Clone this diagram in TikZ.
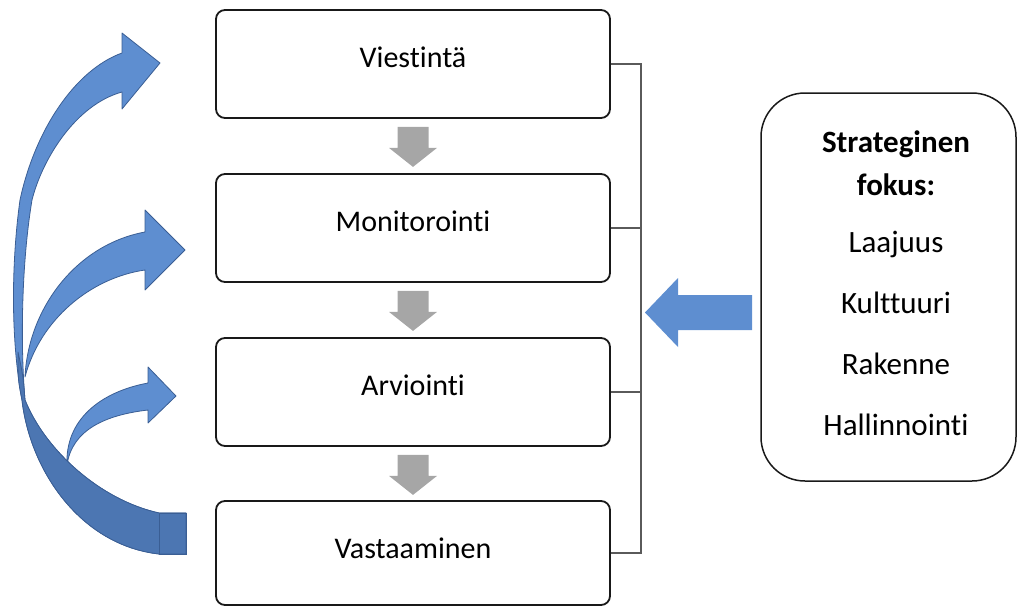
\documentclass[tikz,border=0pt]{standalone}
\usepackage{fontspec}
\setmainfont{Carlito}[Ligatures={NoCommon,NoRare,NoDiscretionary}]
\usetikzlibrary{calc}
\definecolor{arrowblue}{RGB}{94,142,208}
\definecolor{arrowdark}{RGB}{76,118,178}
\definecolor{arrowline}{RGB}{58,94,148}
\definecolor{stepgray}{RGB}{166,166,166}
\definecolor{brackgray}{RGB}{90,90,90}
\begin{document}
\begin{tikzpicture}[x=1pt,y=-1pt,
  procbox/.style={draw=black!90, line width=1.8pt, rounded corners=9pt, minimum width=394pt, minimum height=108pt, inner sep=0pt},
  boxtext/.style={anchor=base, font=\fontsize{30}{36}\selectfont, inner sep=0pt},
  focustext/.style={anchor=base, font=\fontsize{31}{37}\selectfont, inner sep=0pt},
  bracketline/.style={draw=brackgray, line width=1.1pt},
  curvearrow/.style={fill=arrowblue, draw=arrowline, line width=0.8pt, line join=round},
  darkband/.style={fill=arrowdark, draw=arrowline, line width=0.8pt, line join=round},
  gdown/.pic={\fill[stepgray] (-15.5,0) -- (15.5,0) -- (15.5,21) -- (24,21) -- (0,40) -- (-24,21) -- (-15.5,21) -- cycle;}
]
\useasboundingbox (0,0) rectangle (1018,608);

% process boxes
\node[procbox] (b1) at (413,64) {};
\node[procbox] (b2) at (413,228) {};
\node[procbox] (b3) at (413,392) {};
\node[procbox, minimum height=104pt] (b4) at (413,553) {};
\node[boxtext] (t1) at (413,67) {Viestintä};
\node[boxtext] (t2) at (413,231) {Monitorointi};
\node[boxtext] (t3) at (413,395) {Arviointi};
\node[boxtext] (t4) at (413,558) {Vastaaminen};

% gray step arrows
\pic at ($(b1.south)+(0,8)$) {gdown};
\pic at ($(b2.south)+(0,8)$) {gdown};
\pic at ($(b3.south)+(0,8)$) {gdown};

% bracket
\coordinate (bx) at (641,0);
\draw[bracketline] (b1.east) -- (b1.east -| bx) -- (b4.east -| bx) -- (b4.east);
\draw[bracketline] (b2.east) -- (b2.east -| bx);
\draw[bracketline] (b3.east) -- (b3.east -| bx);

% focus box
\node[draw=black!90, line width=1.5pt, rounded corners=44pt, minimum width=255pt, minimum height=388pt, inner sep=0pt] (focus) at (888.5,287) {};
\node[focustext, font=\fontsize{31}{37}\selectfont\bfseries] (f1) at (896,152) {Strateginen};
\node[focustext, font=\fontsize{31}{37}\selectfont\bfseries] (f2) at (896,195) {fokus:};
\node[focustext] (f3) at (896,252) {Laajuus};
\node[focustext] (f4) at (896,313) {Kulttuuri};
\node[focustext] (f5) at (896,374) {Rakenne};
\node[focustext] (f6) at (896,435) {Hallinnointi};

% block arrow from focus box to bracket
\fill[arrowblue] (752,295) -- (678,295) -- (678,278) -- (645,312.5) -- (678,347) -- (678,330) -- (752,330) -- cycle;

% middle curved arrow
\path[curvearrow] (25,377) .. controls (28,310) and (75,245) .. (145,232) -- (145,210) -- (185,250) -- (145,290) -- (145,270) .. controls (90,278) and (40,320) .. (25,377) -- cycle;
% small curved arrow
\path[curvearrow] (67,465) .. controls (65,420) and (100,392) .. (148,383) -- (148,367) -- (176,396) -- (148,423) -- (148,410) .. controls (105,415) and (72,430) .. (67,465) -- cycle;
% big curved arrow
\path[curvearrow] (122,53) .. controls (75,70) and (35,130) .. (20,200)
  .. controls (13,250) and (9,330) .. (22,400)
  .. controls (30,470) and (80,545) .. (159,554) -- (186,554) -- (186,513) -- (159,513)
  .. controls (100,500) and (45,450) .. (25,400)
  .. controls (20,340) and (22,260) .. (32,200)
  .. controls (42,160) and (75,105) .. (122,92) -- (122,109) -- (160,63) -- (122,33) -- cycle;
\path[darkband] (18,352) .. controls (18,380) .. (22,400)
  .. controls (30,470) and (80,545) .. (159,554) -- (186,554) -- (186,513) -- (159,513)
  .. controls (100,500) and (45,450) .. (25,400) .. controls (23,375) .. (18,352) -- cycle;
\draw[arrowline, line width=0.8pt] (159,513) rectangle (186,554);
\end{tikzpicture}
\end{document}
